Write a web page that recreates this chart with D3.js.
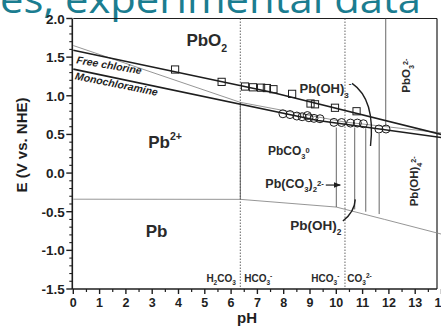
<!DOCTYPE html>
<html>
<head>
<meta charset="utf-8">
<script src="https://cdn.jsdelivr.net/npm/d3@7"></script>
<style>
  html, body { margin: 0; padding: 0; background: #fff; }
  svg { display: block; }
  text { font-family: "Liberation Sans", Arial, sans-serif; }
</style>
</head>
<body>
<svg id="chart" width="441" height="331"></svg>
<script>
// Axis ticks
const xTicks = [0,1,2,3,4,5,6,7,8,9,10,11,12,13,14];
const yTicks = [2.0,1.5,1.0,0.5,0.0,-0.5,-1.0,-1.5];

// Oxidant half-reaction lines (pH, E)
const freeChlorine   = [[0,1.59],[7.5,1.05],[14,0.50]];
const monochloramine = [[0,1.345],[9.3,0.68],[14,0.46]];

// Pb phase boundaries (pH, E)
const pbo2Boundary = [[0,1.65],[6.35,0.915],[10.33,0.66],[14,0.52]];
const pbBoundary   = [[0,-0.338],[6.35,-0.34],[10.0,-0.44],[11.84,-0.60],[14,-0.79]];

// Solid vertical boundaries: pH, upper E, lower E
const verticals = [
  [6.35, 0.915, -0.34],
  [10.0, 0.59, -0.44],
  [10.7, 0.59, -0.47],
  [11.12, 0.58, -0.50],
  [11.63, 0.51, -0.53],
  [11.88, 2.0, 0.61]
];
// Carbonate speciation pKa (dotted)
const carbonatePKa = [6.35, 10.33];

// Measured potentials: free chlorine (squares), monochloramine (circles)
const squaresPH = [3.87,5.64,6.53,6.83,7.14,7.36,7.61,8.32,9.02,9.19,9.95,10.77];
const squaresE  = [1.34,1.18,1.12,1.11,1.105,1.10,1.085,1.025,0.90,0.89,0.845,0.80];
const circlesPH = [7.97,8.24,8.5,8.7,8.9,8.96,9.15,9.38,9.91,10.2,10.54,10.8,11.03,11.62,11.89];
const circlesE  = [0.767,0.757,0.738,0.729,0.744,0.716,0.708,0.703,0.656,0.654,0.647,0.647,0.638,0.57,0.57];

const svg = d3.select("#chart");
const x = d3.scaleLinear().domain([0,14]).range([73.3,441.5]);
const y = d3.scaleLinear().domain([-1.5,2.0]).range([289,18.5]);
const ink = "#1e1e1e";

// Slide heading fragment
svg.append("text")
  .attr("x", 0).attr("y", 13)
  .attr("textLength", 421).attr("lengthAdjust","spacingAndGlyphs")
  .style("font-family","'Open Sans', sans-serif")
  .style("font-size","38px")
  .attr("fill","#1b7d90")
  .text("es, experimental data");

// Frame
const plot = svg.append("g");
plot.append("line").attr("x1",x(0)).attr("x2",437).attr("y1",y(2)).attr("y2",y(2))
  .attr("stroke",ink).attr("stroke-width",1.2);
plot.append("line").attr("x1",437).attr("x2",437).attr("y1",y(2)).attr("y2",y(-1.5))
  .attr("stroke",ink).attr("stroke-width",1.2);

// Dotted carbonate lines
carbonatePKa.forEach(p => {
  plot.append("line").attr("x1",x(p)).attr("x2",x(p)).attr("y1",y(2)).attr("y2",y(-1.5))
    .attr("stroke","#555").attr("stroke-width",0.9).attr("stroke-dasharray","1.5,1.5");
});

const line = d3.line().x(d => x(d[0])).y(d => y(d[1]));

// Thin boundaries
[pbo2Boundary, pbBoundary].forEach(b => {
  plot.append("path").attr("d", line(b)).attr("fill","none")
    .attr("stroke","#8a8a8a").attr("stroke-width",0.9);
});

verticals.forEach(v => {
  plot.append("line").attr("x1",x(v[0])).attr("x2",x(v[0])).attr("y1",y(v[1])).attr("y2",y(v[2]))
    .attr("stroke","#555").attr("stroke-width",0.9);
});

// Thick oxidant lines
[freeChlorine, monochloramine].forEach(b => {
  plot.append("path").attr("d", line(b)).attr("fill","none")
    .attr("stroke",ink).attr("stroke-width",1.6);
});

// Data markers
plot.selectAll("rect.sq").data(squaresPH).join("rect").attr("class","sq")
  .attr("x",(d,i)=>x(d)-3.6).attr("y",(d,i)=>y(squaresE[i])-3.6)
  .attr("width",7.2).attr("height",7.2)
  .attr("fill","none").attr("stroke",ink).attr("stroke-width",1);
plot.selectAll("circle.ci").data(circlesPH).join("circle").attr("class","ci")
  .attr("cx",d=>x(d)).attr("cy",(d,i)=>y(circlesE[i])).attr("r",4)
  .attr("fill","none").attr("stroke",ink).attr("stroke-width",1);

// Axes
const xAxis = svg.append("g").attr("transform",`translate(0,${y(-1.5)})`);
xAxis.append("line").attr("x1",x(0)-1).attr("x2",437).attr("stroke",ink).attr("stroke-width",1.6);
xAxis.selectAll("line.mi").data(d3.range(0.5,14,1)).join("line").attr("class","mi")
  .attr("x1",d=>x(d)).attr("x2",d=>x(d)).attr("y1",0).attr("y2",3).attr("stroke",ink).attr("stroke-width",1.2);
xAxis.selectAll("line.ma").data(xTicks).join("line").attr("class","ma")
  .attr("x1",d=>x(d)).attr("x2",d=>x(d)).attr("y1",0).attr("y2",5).attr("stroke",ink).attr("stroke-width",1.4);
xAxis.selectAll("text").data(xTicks).join("text")
  .attr("x",d=>x(d)).attr("y",17.5).attr("text-anchor","middle")
  .style("font-size","12.5px").style("font-weight","bold").attr("fill",ink)
  .text(d=>d);

const yAxis = svg.append("g").attr("transform",`translate(${x(0)-1},0)`);
yAxis.append("line").attr("y1",y(2)).attr("y2",y(-1.5)).attr("stroke",ink).attr("stroke-width",1.6);
yAxis.selectAll("line.mi").data(d3.range(-1.4,2.0,0.1).filter(v => Math.abs(v*2 - Math.round(v*2)) > 0.01)).join("line").attr("class","mi")
  .attr("y1",d=>y(d)).attr("y2",d=>y(d)).attr("x1",0).attr("x2",-3).attr("stroke",ink).attr("stroke-width",1.1);
yAxis.selectAll("line.ma").data(yTicks).join("line").attr("class","ma")
  .attr("y1",d=>y(d)).attr("y2",d=>y(d)).attr("x1",0).attr("x2",-6).attr("stroke",ink).attr("stroke-width",1.4);
yAxis.selectAll("text").data(yTicks).join("text")
  .attr("x",-7.5).attr("y",d=>y(d)+5).attr("text-anchor","end")
  .style("font-size","13.5px").style("font-weight","bold").attr("fill",ink)
  .text(d=>d.toFixed(1));

// Axis titles
svg.append("text").attr("x",247).attr("y",323).attr("text-anchor","middle")
  .style("font-size","15px").style("font-weight","bold").attr("fill",ink).text("pH");
svg.append("text").attr("transform","translate(27,145) rotate(-90)").attr("text-anchor","middle")
  .style("font-size","15px").style("font-weight","bold").attr("fill",ink).text("E (V vs. NHE)");

// Region labels with sub/superscripts
function label(px, pe, parts, size, rot) {
  const t = svg.append("text")
    .attr("transform",`translate(${x(px)},${y(pe)}) rotate(${rot||0})`)
    .style("font-size",size+"px").style("font-weight","bold").attr("fill","#2a2a2a");
  parts.forEach(p => {
    const s = t.append("tspan").text(p[0]);
    if (p[1] === "sub") s.attr("dy", size*0.35).style("font-size",(size*0.62)+"px");
    else if (p[1] === "sup") s.attr("dy", -size*0.5).style("font-size",(size*0.62)+"px");
    else if (p[1] === "supHi") s.attr("dy", -size*0.95).style("font-size",(size*0.62)+"px");
    else if (p[1] === "back") s.attr("dy", p[2]);
  });
  return t;
}
label(4.3, 1.64, [["PbO"],["2","sub"]], 17);
label(2.85, 0.32, [["Pb"],["2+","sup"]], 17);
label(2.75, -0.83, [["Pb"]], 17);
label(8.6, 1.03, [["Pb(OH)"],["3","sub"],["-","supHi"]], 13);
label(7.4, 0.23, [["PbCO"],["3","sub"],["0","sup"]], 12);
label(7.3, -0.19, [["Pb(CO"],["3","sub"],[")","back",-4.5],["2","sub"],["2-","sup"]], 12.5);
label(8.25, -0.74, [["Pb(OH)"],["2","sub"]], 13.5);

// Rotated species labels
label(12.8, 1.04, [["PbO"],["3","sub"],["2-","sup"]], 11.5, -90);
label(13.1, -0.43, [["Pb(OH)"],["4","sub"],["2-","sup"]], 11.5, -90);

// Oxidant labels
svg.append("text").attr("transform",`translate(${x(0.1)},${y(1.42)}) rotate(9.5)`)
  .style("font-size","10.5px").style("font-weight","bold").style("font-style","italic").attr("fill",ink).text("Free chlorine");
svg.append("text").attr("transform",`translate(${x(0.05)},${y(1.215)}) rotate(11.5)`)
  .style("font-size","10.5px").style("font-weight","bold").style("font-style","italic").attr("fill",ink).text("Monochloramine");

// Carbonate labels
function carb(px, parts) {
  const t = svg.append("text").attr("x",x(px)).attr("y",y(-1.41))
    .style("font-size","10px").style("font-weight","bold").attr("fill","#2a2a2a");
  parts.forEach(p => {
    const s = t.append("tspan").text(p[0]);
    if (p[1] === "sub") s.attr("dy",3).style("font-size","6.5px");
    if (p[1] === "sup") s.attr("dy",-7).style("font-size","6.5px");
    if (p[1] === "base") s.attr("dy",p[2]);
  });
}
carb(5.06, [["H"],["2","sub"],["CO","base",-3],["3","sub"]]);
carb(6.5, [["HCO"],["3","sub"],["-","sup"]]);
carb(9.05, [["HCO"],["3","sub"],["-","sup"]]);
carb(10.42, [["CO"],["3","sub"],["2-","sup"]]);

// Annotation arrows
const defs = svg.append("defs");
defs.append("marker").attr("id","ah").attr("viewBox","0 0 10 10").attr("refX",9).attr("refY",5)
  .attr("markerWidth",6).attr("markerHeight",6).attr("orient","auto")
  .append("path").attr("d","M0,1 L10,5 L0,9 z").attr("fill",ink);

const p1 = d3.path();
p1.moveTo(x(10.6), y(1.16));
p1.quadraticCurveTo(x(11.5), y(0.95), x(11.3), y(0.35));
svg.append("path").attr("d",p1.toString()).attr("fill","none").attr("stroke",ink).attr("stroke-width",1.4);

svg.append("line").attr("x1",x(9.6)).attr("x2",x(10.15)).attr("y1",y(-0.155)).attr("y2",y(-0.155))
  .attr("stroke",ink).attr("stroke-width",1.2).attr("marker-end","url(#ah)");

const p2 = d3.path();
p2.moveTo(x(10.25), y(-0.62));
p2.quadraticCurveTo(x(10.7), y(-0.5), x(10.72), y(-0.34));
svg.append("path").attr("d",p2.toString()).attr("fill","none").attr("stroke",ink).attr("stroke-width",1.4);
</script>
</body>
</html>
